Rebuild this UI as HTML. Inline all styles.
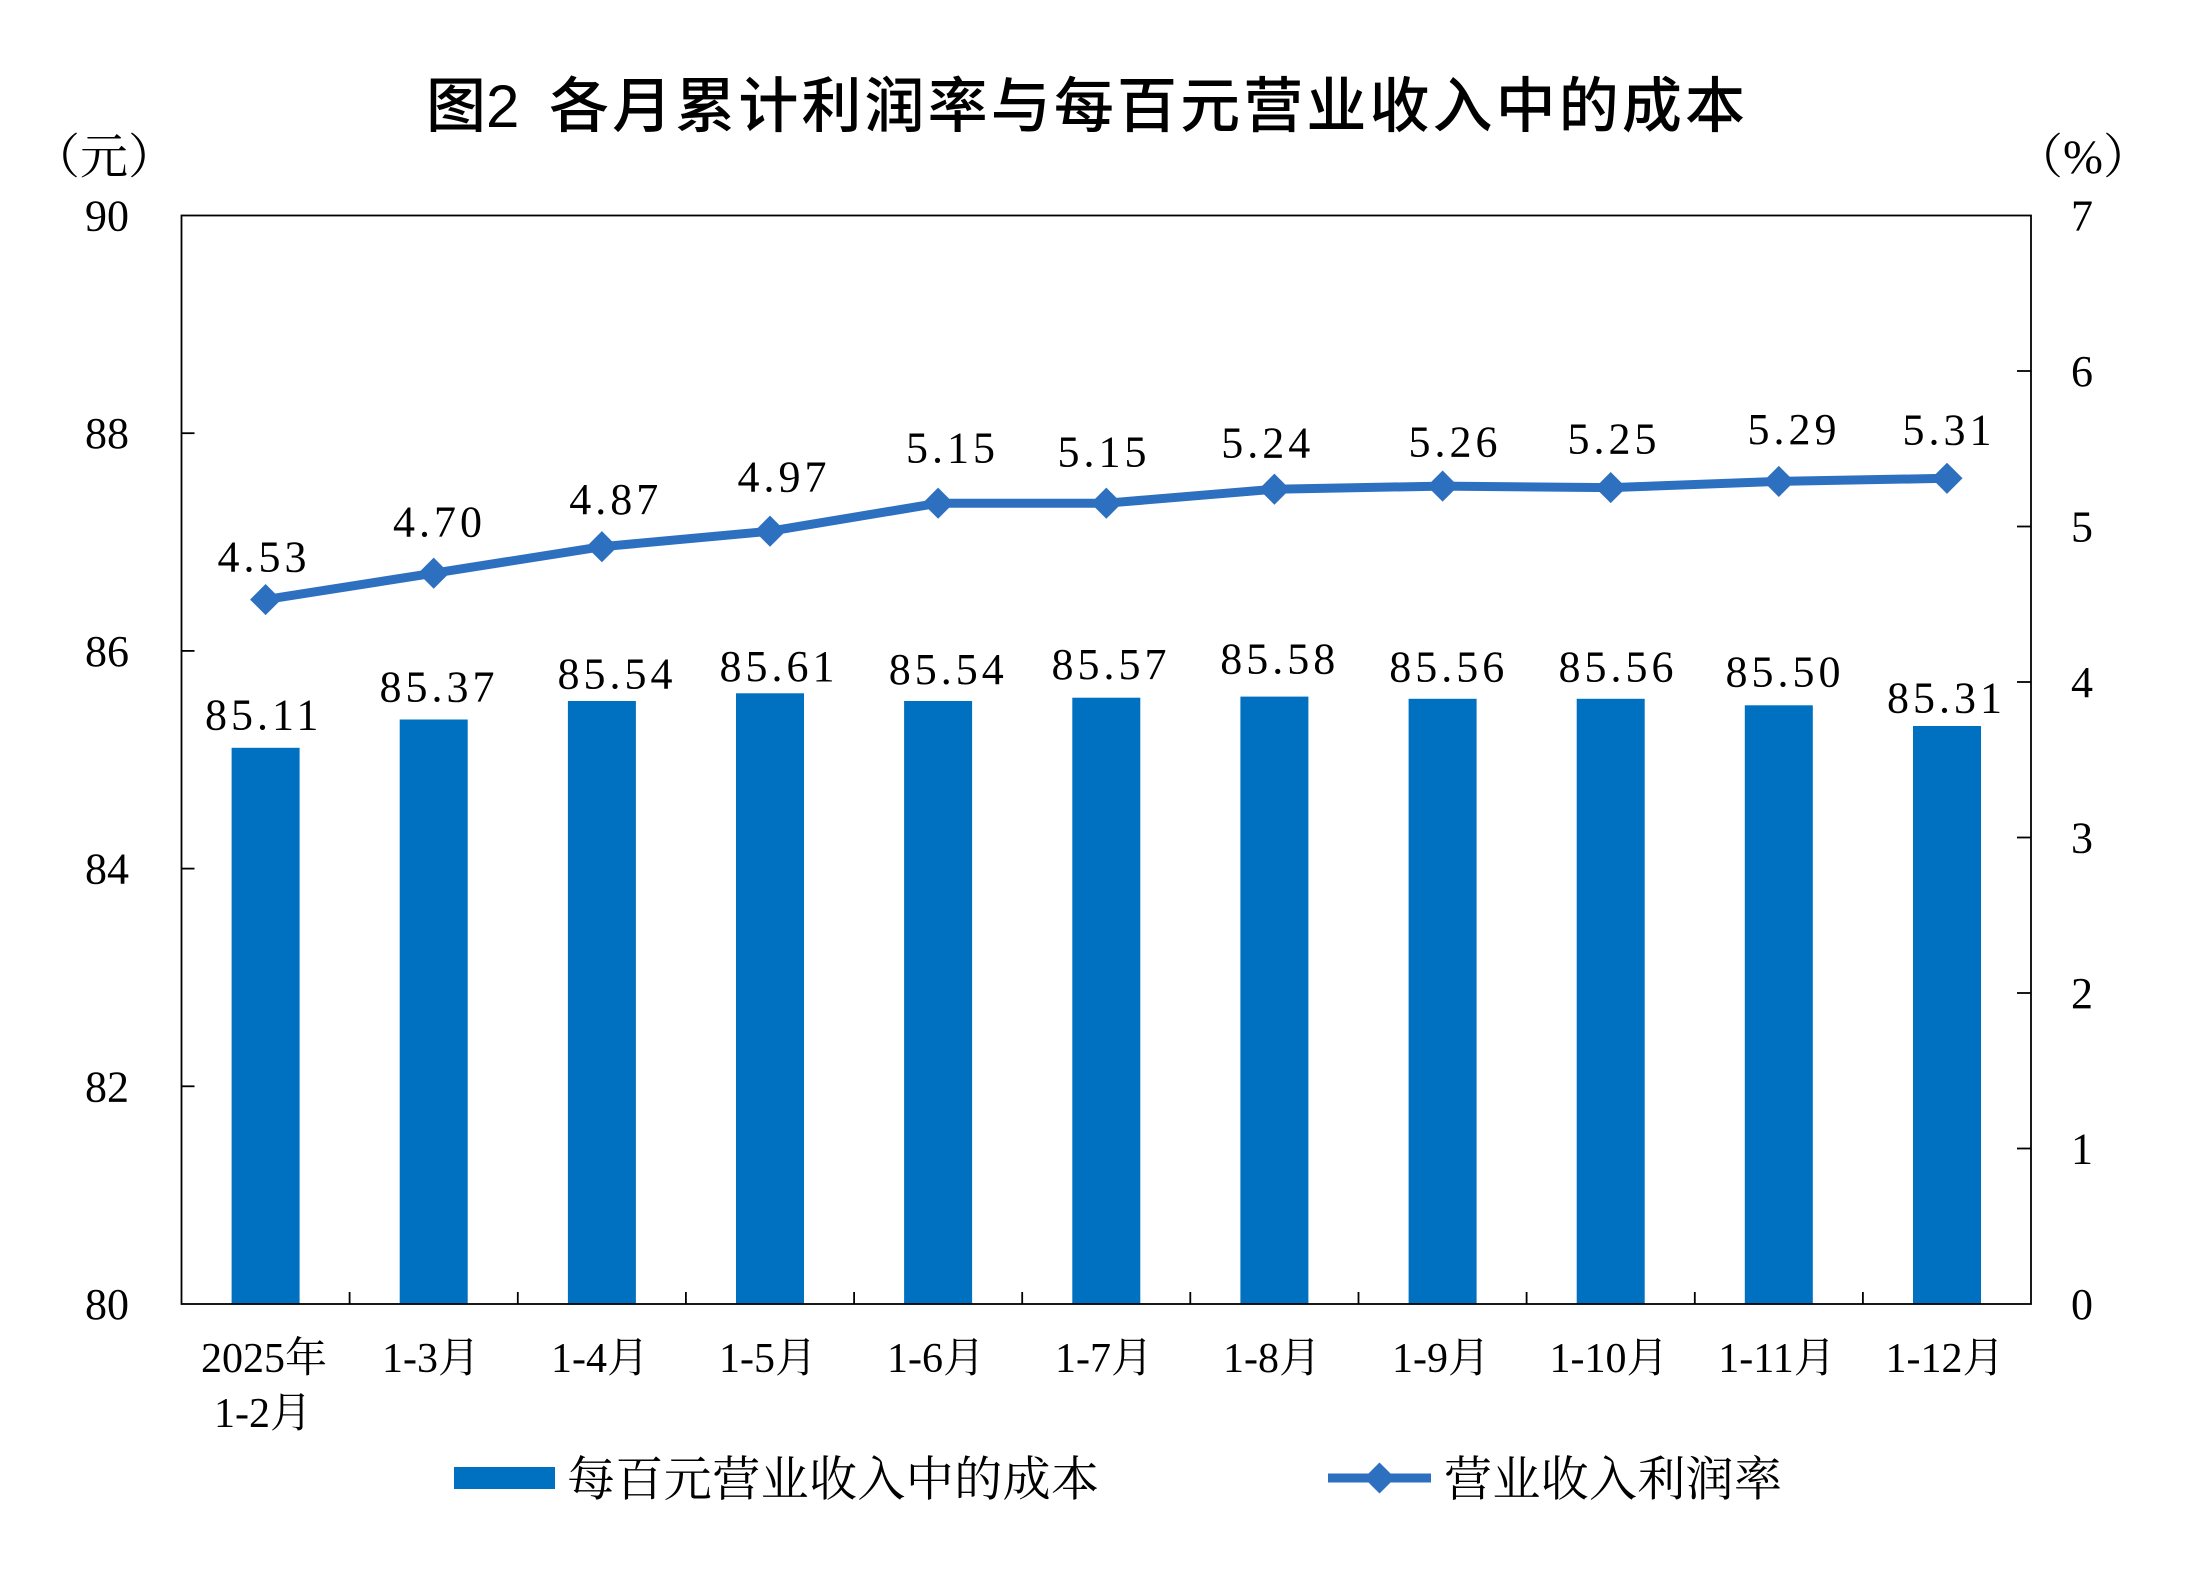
<!DOCTYPE html>
<html>
<head>
<meta charset="utf-8">
<style>
html,body{margin:0;padding:0;background:#fff;}
svg{display:block;}
.num{font-family:"Liberation Serif","Noto Serif CJK SC",serif;font-size:44px;fill:#000;}
.dl{font-family:"Liberation Serif","Noto Serif CJK SC",serif;font-size:44px;fill:#000;letter-spacing:4px;}
.xl{font-family:"Liberation Serif","Noto Serif CJK SC",serif;font-size:42px;fill:#000;}
.lg{font-family:"Liberation Serif","Noto Serif CJK SC",serif;font-size:48px;fill:#000;}
.tt{font-family:"Liberation Sans","Noto Sans CJK SC",sans-serif;font-size:60px;font-weight:500;fill:#000;}
</style>
</head>
<body>
<svg width="2196" height="1571" viewBox="0 0 2196 1571" xmlns="http://www.w3.org/2000/svg">
<rect x="0" y="0" width="2196" height="1571" fill="#fff"/>

<!-- Title -->
<text class="tt" x="426" y="127">图2</text>
<text class="tt" x="549" y="127" textLength="1196" lengthAdjust="spacing">各月累计利润率与每百元营业收入中的成本</text>

<!-- Unit labels -->
<text class="lg" x="104" y="173" text-anchor="middle">（元）</text>
<text class="lg" x="2083" y="173" text-anchor="middle">（%）</text>

<!-- Bars -->
<g fill="#0070C0">
<rect x="231.6" y="747.8" width="68" height="556.2"/>
<rect x="399.7" y="719.5" width="68" height="584.5"/>
<rect x="567.9" y="701.0" width="68" height="603.0"/>
<rect x="736.0" y="693.3" width="68" height="610.7"/>
<rect x="904.1" y="701.0" width="68" height="603.0"/>
<rect x="1072.3" y="697.7" width="68" height="606.3"/>
<rect x="1240.4" y="696.6" width="68" height="607.4"/>
<rect x="1408.6" y="698.8" width="68" height="605.2"/>
<rect x="1576.7" y="698.8" width="68" height="605.2"/>
<rect x="1744.8" y="705.3" width="68" height="598.7"/>
<rect x="1913.0" y="726.0" width="68" height="578.0"/>
</g>

<!-- Plot frame -->
<g stroke="#000" stroke-width="1.8" fill="none">
<rect x="181.5" y="215.5" width="1849.5" height="1088.5"/>
<line x1="181.5" y1="433.2" x2="194.5" y2="433.2"/>
<line x1="181.5" y1="650.9" x2="194.5" y2="650.9"/>
<line x1="181.5" y1="868.6" x2="194.5" y2="868.6"/>
<line x1="181.5" y1="1086.3" x2="194.5" y2="1086.3"/>
<line x1="2017" y1="1148.5" x2="2031" y2="1148.5"/>
<line x1="2017" y1="993" x2="2031" y2="993"/>
<line x1="2017" y1="837.5" x2="2031" y2="837.5"/>
<line x1="2017" y1="682" x2="2031" y2="682"/>
<line x1="2017" y1="526.5" x2="2031" y2="526.5"/>
<line x1="2017" y1="371" x2="2031" y2="371"/>
<line x1="349.6" y1="1304" x2="349.6" y2="1292"/>
<line x1="517.8" y1="1304" x2="517.8" y2="1292"/>
<line x1="685.9" y1="1304" x2="685.9" y2="1292"/>
<line x1="854.1" y1="1304" x2="854.1" y2="1292"/>
<line x1="1022.2" y1="1304" x2="1022.2" y2="1292"/>
<line x1="1190.3" y1="1304" x2="1190.3" y2="1292"/>
<line x1="1358.5" y1="1304" x2="1358.5" y2="1292"/>
<line x1="1526.6" y1="1304" x2="1526.6" y2="1292"/>
<line x1="1694.8" y1="1304" x2="1694.8" y2="1292"/>
<line x1="1862.9" y1="1304" x2="1862.9" y2="1292"/>
</g>

<!-- Line series -->
<polyline fill="none" stroke="#2E70C0" stroke-width="9" stroke-linejoin="round"
points="265.6,599.6 433.7,573.2 601.9,546.7 770.0,531.2 938.1,503.2 1106.3,503.2 1274.4,489.2 1442.6,486.1 1610.7,487.6 1778.8,481.4 1947.0,478.3"/>
<g fill="#2E70C0">
<rect x="-11" y="-11" width="22" height="22" transform="translate(265.6,599.6) rotate(45)"/>
<rect x="-11" y="-11" width="22" height="22" transform="translate(433.7,573.2) rotate(45)"/>
<rect x="-11" y="-11" width="22" height="22" transform="translate(601.9,546.7) rotate(45)"/>
<rect x="-11" y="-11" width="22" height="22" transform="translate(770.0,531.2) rotate(45)"/>
<rect x="-11" y="-11" width="22" height="22" transform="translate(938.1,503.2) rotate(45)"/>
<rect x="-11" y="-11" width="22" height="22" transform="translate(1106.3,503.2) rotate(45)"/>
<rect x="-11" y="-11" width="22" height="22" transform="translate(1274.4,489.2) rotate(45)"/>
<rect x="-11" y="-11" width="22" height="22" transform="translate(1442.6,486.1) rotate(45)"/>
<rect x="-11" y="-11" width="22" height="22" transform="translate(1610.7,487.6) rotate(45)"/>
<rect x="-11" y="-11" width="22" height="22" transform="translate(1778.8,481.4) rotate(45)"/>
<rect x="-11" y="-11" width="22" height="22" transform="translate(1947.0,478.3) rotate(45)"/>
</g>

<!-- Line data labels -->
<g class="dl" text-anchor="middle">
<text x="264" y="571.7">4.53</text>
<text x="439.5" y="536.7">4.70</text>
<text x="615.7" y="514">4.87</text>
<text x="784" y="491.7">4.97</text>
<text x="952.5" y="462.7">5.15</text>
<text x="1104" y="466.7">5.15</text>
<text x="1267.8" y="457.7">5.24</text>
<text x="1455" y="456.7">5.26</text>
<text x="1614" y="453.3">5.25</text>
<text x="1794" y="444">5.29</text>
<text x="1949" y="444.3">5.31</text>
</g>

<!-- Bar data labels -->
<g class="dl" text-anchor="middle">
<text x="263.7" y="729.3">85.11</text>
<text x="439" y="701.7">85.37</text>
<text x="617" y="688.3">85.54</text>
<text x="779" y="681">85.61</text>
<text x="948.3" y="684">85.54</text>
<text x="1111" y="679">85.57</text>
<text x="1279.8" y="673.3">85.58</text>
<text x="1448.7" y="681.7">85.56</text>
<text x="1618" y="681.7">85.56</text>
<text x="1785" y="686.7">85.50</text>
<text x="1946.5" y="712.7">85.31</text>
</g>

<!-- Left axis labels -->
<g class="num" text-anchor="end">
<text x="129" y="230.5">90</text>
<text x="129" y="448.2">88</text>
<text x="129" y="665.9">86</text>
<text x="129" y="883.6">84</text>
<text x="129" y="1101.3">82</text>
<text x="129" y="1319">80</text>
</g>

<!-- Right axis labels -->
<g class="num" text-anchor="start">
<text x="2071" y="230.5">7</text>
<text x="2071" y="386">6</text>
<text x="2071" y="541.5">5</text>
<text x="2071" y="697">4</text>
<text x="2071" y="852.5">3</text>
<text x="2071" y="1008">2</text>
<text x="2071" y="1163.5">1</text>
<text x="2071" y="1319">0</text>
</g>

<!-- Category labels -->
<g class="xl" text-anchor="middle">
<text x="264" y="1372">2025年</text>
<text x="263" y="1427">1-2月</text>
<text x="431" y="1372">1-3月</text>
<text x="600" y="1372">1-4月</text>
<text x="768" y="1372">1-5月</text>
<text x="936" y="1372">1-6月</text>
<text x="1104" y="1372">1-7月</text>
<text x="1272" y="1372">1-8月</text>
<text x="1441" y="1372">1-9月</text>
<text x="1609" y="1372">1-10月</text>
<text x="1777" y="1372">1-11月</text>
<text x="1945" y="1372">1-12月</text>
</g>

<!-- Legend -->
<rect x="454" y="1467" width="101" height="22" fill="#0070C0"/>
<text class="lg" x="567" y="1495.5" textLength="532" lengthAdjust="spacing">每百元营业收入中的成本</text>
<line x1="1328" y1="1478" x2="1431" y2="1478" stroke="#2E70C0" stroke-width="9"/>
<rect x="-11" y="-11" width="22" height="22" fill="#2E70C0" transform="translate(1379.5,1478) rotate(45)"/>
<text class="lg" x="1444" y="1495.5" textLength="338" lengthAdjust="spacing">营业收入利润率</text>
</svg>
</body>
</html>
